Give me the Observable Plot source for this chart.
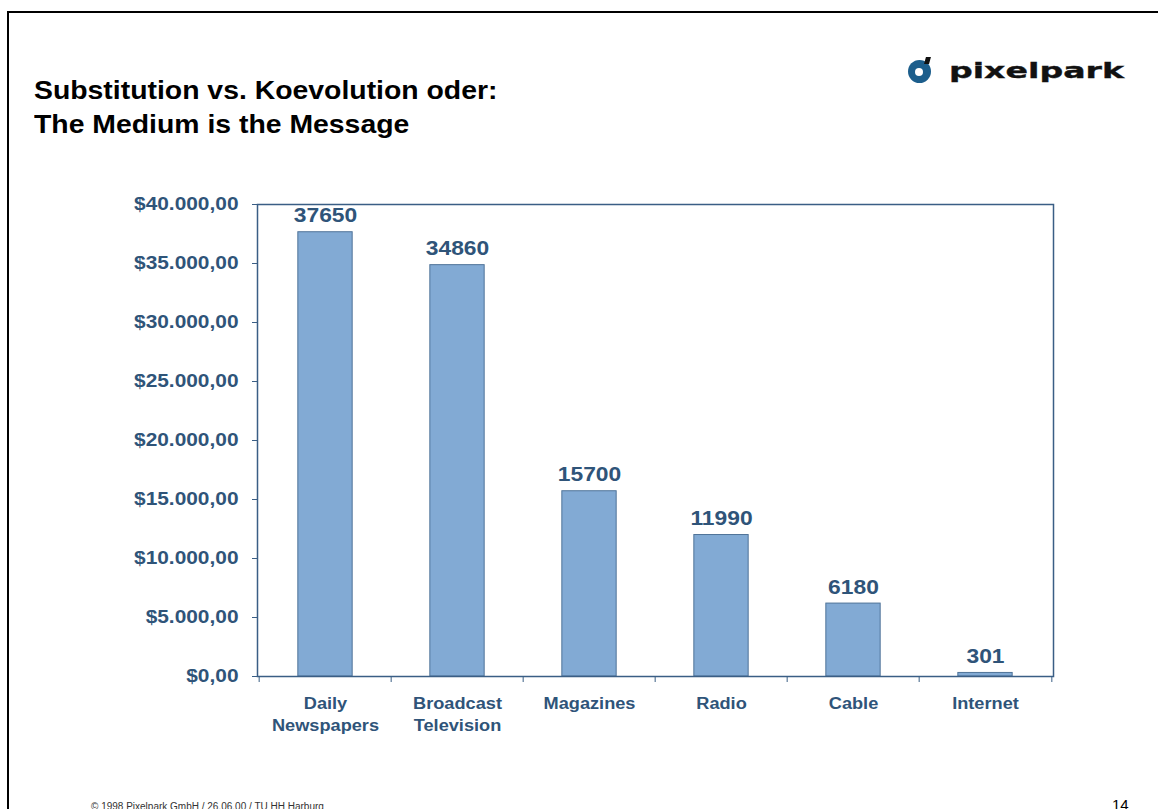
<!DOCTYPE html>
<html>
<head>
<meta charset="utf-8">
<script src="https://cdn.jsdelivr.net/npm/d3@7"></script>
<script src="https://cdn.jsdelivr.net/npm/@observablehq/plot@0.6"></script>
<style>
  html, body { margin: 0; padding: 0; background: #fff; width: 1158px; height: 809px; overflow: hidden; }
  body { position: relative; font-family: "Liberation Sans", Arial, sans-serif; }
  .frameTop { position: absolute; left: 7px; top: 11px; width: 1160px; height: 0; border-top: 2.5px solid #000; }
  .frameLeft { position: absolute; left: 7px; top: 11px; width: 0; height: 820px; border-left: 2.5px solid #000; }
  .title { position: absolute; left: 34px; top: 73px; font-size: 25px; font-weight: bold; line-height: 34px; color: #000; white-space: nowrap; transform: scaleX(1.135); transform-origin: left top; }
  .logo { position: absolute; left: 908px; top: 60px; display: flex; align-items: center; }
  .logo .mark { width: 23px; height: 23px; border-radius: 50%; background: #1c5e8c; position: relative; margin-right: 18px; }
  .logo .mark::after { content: ""; position: absolute; left: 7px; top: 8px; width: 8px; height: 8px; background: #fff; border-radius: 50%; }
  .logo .mark::before { content: ""; position: absolute; left: 17px; top: -3px; width: 5px; height: 7px; background: #111; transform: skewX(-15deg); }
  .logo .word { font-family: "DejaVu Sans", sans-serif; font-weight: bold; font-size: 21px; letter-spacing: 0px; color: #111; -webkit-text-stroke: 0.35px #111; transform: scaleX(1.58); transform-origin: left center; line-height: 23px; }
  .chart { position: absolute; left: 0; top: 180px; }
  .footer { position: absolute; left: 91px; top: 801px; font-size: 10px; color: #333; }
  .page { position: absolute; left: 1112px; top: 796px; font-size: 15px; color: #000; }
</style>
</head>
<body>
<div class="frameTop"></div>
<div class="frameLeft"></div>
<div class="title">Substitution vs. Koevolution oder:<br>The Medium is the Message</div>
<div class="logo"><div class="mark"></div><div class="word">pixelpark</div></div>
<div class="chart" id="chart"></div>
<div class="footer">© 1998 Pixelpark GmbH / 26.06.00 / TU HH Harburg</div>
<div class="page">14</div>
<script>
const categories = ["Daily Newspapers", "Broadcast Television", "Magazines", "Radio", "Cable", "Internet"];
const tickLabels = ["Daily\nNewspapers", "Broadcast\nTelevision", "Magazines", "Radio", "Cable", "Internet"];
const values = [37650, 34860, 15700, 11990, 6180, 301];
const yTicks = [0, 5000, 10000, 15000, 20000, 25000, 30000, 35000, 40000];

const data = categories.map((c, i) => ({category: c, value: values[i]}));
const labelOf = new Map(categories.map((c, i) => [c, tickLabels[i]]));

const de = d3.formatLocale({decimal: ",", thousands: ".", grouping: [3], currency: ["$", ""]});
const money = de.format("$,.2f");

const W = 1158, H = 600;
const mL = 257, mR = 105, mT = 24, mB = 104;
const band = (W - mL - mR) / categories.length;
const barW = 55;
const inset = (band - barW) / 2;
const ink = "#2f5479";
const axisInk = "#3a5e85";

const chart = Plot.plot({
  width: W, height: H,
  marginLeft: mL, marginRight: mR, marginTop: mT, marginBottom: mB,
  style: {fontFamily: "Liberation Sans, Arial, sans-serif", color: ink, background: "transparent"},
  x: {domain: categories, padding: 0, label: null},
  y: {domain: [0, 40000], label: null},
  marks: [
    Plot.barY(data, {x: "category", y: "value", fill: "#82aad4", stroke: "#4f7398", strokeWidth: 1, insetLeft: inset, insetRight: inset}),
    Plot.frame({stroke: axisInk, strokeWidth: 1.5}),
    Plot.axisY({ticks: yTicks, tickFormat: money, tickSize: 5, tickPadding: 14, stroke: axisInk, fontSize: 18, fontWeight: "bold", fill: ink, className: "ylab"}),
    // x tick marks at band boundaries
    Plot.axisX({ticks: categories, tickFormat: () => "", tickSize: 6, dx: -band / 2, stroke: axisInk}),
    Plot.axisX({ticks: [categories[categories.length - 1]], tickFormat: () => "", tickSize: 6, dx: band / 2, stroke: axisInk}),
    Plot.axisX({ticks: categories, tickFormat: d => labelOf.get(d), tickSize: 0, tickPadding: 17, fontSize: 17, fontWeight: "bold", fill: ink, lineHeight: 1.3, className: "xlab"}),
    Plot.text(data, {x: "category", y: "value", text: d => String(d.value), dy: -10, lineAnchor: "bottom", fontSize: 19.5, fontWeight: "bold", fill: ink, className: "vlab"})
  ]
});
// widen glyphs horizontally (the reference text is stretched) without moving the anchor
function stretch(sel, k, fallbackSpacing) {
  d3.select(chart).selectAll(sel).each(function () {
    const t = this.getAttribute("transform");
    if (t && /translate/.test(t) && !this.getAttribute("x")) {
      this.setAttribute("transform", t + ` scale(${k},1)`);
    } else {
      this.style.letterSpacing = fallbackSpacing;
    }
  });
}
stretch(".ylab text", 1.16, "1.5px");
stretch(".xlab text", 1.07, "0.7px");
stretch(".vlab text", 1.17, "1.8px");
document.getElementById("chart").appendChild(chart);
</script>
</body>
</html>
